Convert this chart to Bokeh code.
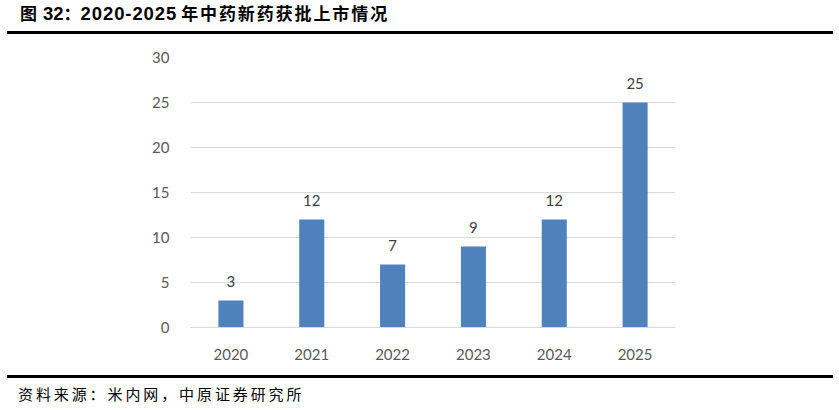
from bokeh.plotting import figure
from bokeh.models import ColumnDataSource, Div, FixedTicker, Range1d
from bokeh.layouts import column
from bokeh.embed import file_html
from bokeh.resources import INLINE
from bokeh.core.properties import value

years = ["2020", "2021", "2022", "2023", "2024", "2025"]
counts = [3, 12, 7, 9, 12, 25]
y_ticks = [0, 5, 10, 15, 20, 25, 30]
title_fig = "图"
title_num = "32"
title_sep = "："
title_years = "2020-2025"
title_rest = "年中药新药获批上市情况"
source_text = "资料来源：米内网，中原证券研究所"

src = ColumnDataSource(dict(year=years, count=counts, label=[str(c) for c in counts]))

cjk = "font-family:'Noto Sans CJK SC';font-size:17px;font-weight:bold;"
lat = "font-family:'Liberation Sans';font-size:18.5px;font-weight:bold;"
title_html = (
    f'<div style="position:absolute;left:13px;top:4px;white-space:nowrap;line-height:1;color:#000;">'
    f'<span style="{cjk}">{title_fig}</span>'
    f'<span style="{lat}margin-left:6px;">{title_num}</span>'
    f'<span style="{cjk}">{title_sep}</span>'
    f'<span style="{lat}letter-spacing:0.9px;">{title_years}</span>'
    f'<span style="{cjk}margin-left:4px;letter-spacing:1.9px;">{title_rest}</span>'
    f'</div>'
)
title_div = Div(
    text=title_html, width=826, height=34, margin=(0, 6, 0, 7),
    styles={"border-bottom": "3px solid #000", "box-sizing": "border-box", "position": "relative"},
)

p = figure(
    x_range=years, y_range=Range1d(0, 30),
    width=839, height=341,
    output_backend="svg", toolbar_location=None,
    min_border_left=190, min_border_right=164, min_border_top=23, min_border_bottom=48,
    outline_line_color=None,
)
p.vbar(x="year", top="count", width=0.31, source=src, color="#4F81BD", line_color=None)
p.text(x="year", y="count", text="label", source=src, text_align="center", text_baseline="bottom",
       y_offset=-14, text_font=value("Lato"), text_font_size="15px", text_color="#404040")

p.yaxis.ticker = FixedTicker(ticks=y_ticks)
p.yaxis.axis_line_color = None
p.yaxis.major_tick_line_color = None
p.yaxis.minor_tick_line_color = None
p.yaxis.major_label_standoff = 15
p.xaxis.axis_line_color = "#D9D9D9"
p.xaxis.major_tick_line_color = None
p.xaxis.minor_tick_line_color = None
p.xaxis.major_label_standoff = 15
for ax in (p.xaxis, p.yaxis):
    ax.major_label_text_font = "Lato"
    ax.major_label_text_font_size = "15px"
    ax.major_label_text_color = "#595959"
p.xgrid.grid_line_color = None
p.ygrid.grid_line_color = "#D9D9D9"
p.x_range.range_padding = 0

footer_html = (
    f'<div style="position:absolute;left:11px;top:8px;white-space:nowrap;line-height:1;'
    f"font-family:'Noto Sans CJK SC';font-size:15px;letter-spacing:2.9px;color:#000;\">{source_text}</div>"
)
footer_div = Div(
    text=footer_html, width=826, height=35, margin=(0, 6, 0, 7),
    styles={"border-top": "3px solid #000", "box-sizing": "border-box", "position": "relative"},
)

layout = column(title_div, p, footer_div, spacing=0)
open("out.html", "w").write(file_html(layout, INLINE))
